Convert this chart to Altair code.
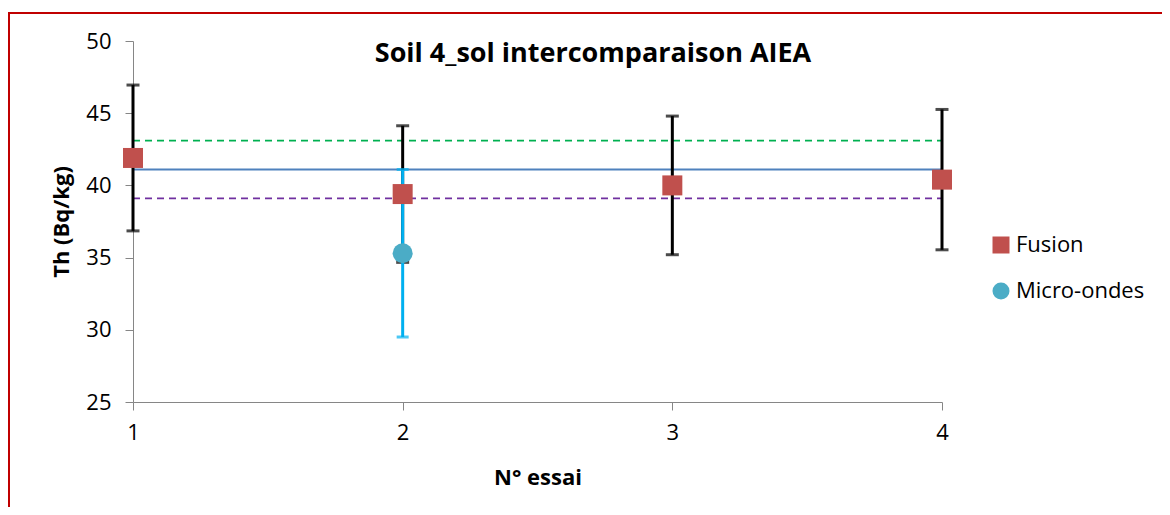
import altair as alt
import pandas as pd

# ---- data ----
trials = [1, 2, 3, 4]
fusion_values = [41.9, 39.4, 40.0, 40.4]
fusion_errors = [5.05, 4.73, 4.8, 4.86]

micro_trials = [2]
micro_values = [35.3]
micro_errors = [5.8]

ref_names = ["sup", "moyenne", "inf"]
ref_values = [43.1, 41.1, 39.1]
ref_start = 1
ref_end = 4

series_names = ["Fusion", "Micro-ondes"]
series_colors = ["#C0504D", "#4BACC6"]
series_shapes = ["square", "circle"]

title_text = "Soil 4_sol intercomparaison AIEA"
x_title = "N° essai"
y_title = "Th (Bq/kg)"
y_ticks = [25, 30, 35, 40, 45, 50]

FONT = "Open Sans"
AXIS_GREY = "#868686"

rows = []
for t, v, e in zip(trials, fusion_values, fusion_errors):
    rows.append({"essai": t, "th": v, "lo": v - e, "hi": v + e, "serie": "Fusion"})
for t, v, e in zip(micro_trials, micro_values, micro_errors):
    rows.append({"essai": t, "th": v, "lo": v - e, "hi": v + e, "serie": "Micro-ondes"})
df = pd.DataFrame(rows)
fus = df[df.serie == "Fusion"]
mic = df[df.serie == "Micro-ondes"]

refs = pd.DataFrame({"name": ref_names, "value": ref_values,
                     "x1": [ref_start] * 3, "x2": [ref_end] * 3})

xscale = alt.Scale(domain=[1, 4], nice=False, zero=False)
yscale = alt.Scale(domain=[25, 50], nice=False, zero=False)

x_axis = alt.Axis(values=trials, format="d", title=x_title, grid=False,
                  domainColor=AXIS_GREY, tickColor=AXIS_GREY, tickSize=8,
                  labelFont=FONT, labelFontSize=22, labelColor="black",
                  labelPadding=12, labelFlush=False, titleFont=FONT, titleFontSize=22,
                  titleFontWeight="bold", titleColor="black", titlePadding=24)
y_axis = alt.Axis(values=y_ticks, title=y_title, grid=False,
                  domainColor=AXIS_GREY, tickColor=AXIS_GREY, tickSize=8,
                  labelFont=FONT, labelFontSize=22, labelColor="black",
                  labelPadding=14, labelFlush=False, titleFont=FONT, titleFontSize=22,
                  titleFontWeight="bold", titleColor="black", titlePadding=12)


def X(f="essai"):
    return alt.X(f"{f}:Q", scale=xscale, axis=x_axis, title=x_title)


def Y(f="th"):
    return alt.Y(f"{f}:Q", scale=yscale, axis=y_axis, title=y_title)


# red frame round the chart area
frame = alt.Chart(pd.DataFrame({"k": [0]})).mark_rect(
    fillOpacity=0, stroke="#C00000", strokeWidth=2
).encode(x=alt.value(-124), x2=alt.value(1200), y=alt.value(-28), y2=alt.value(600))

title_layer = alt.Chart(pd.DataFrame({"t": [title_text]})).mark_text(
    font=FONT, fontSize=27, fontWeight="bold", color="black",
    align="center", baseline="alphabetic"
).encode(text="t:N", x=alt.value(460), y=alt.value(21))

ref_up = alt.Chart(refs[refs.name == "sup"]).mark_rule(
    color="#00B050", strokeWidth=1.8, strokeDash=[7, 5]
).encode(x=X("x1"), x2="x2:Q", y=Y("value"))
ref_mid = alt.Chart(refs[refs.name == "moyenne"]).mark_rule(
    color="#4F81BD", strokeWidth=2
).encode(x=X("x1"), x2="x2:Q", y=Y("value"))
ref_low = alt.Chart(refs[refs.name == "inf"]).mark_rule(
    color="#7030A0", strokeWidth=1.8, strokeDash=[7, 5]
).encode(x=X("x1"), x2="x2:Q", y=Y("value"))

fus_bar = alt.Chart(fus).mark_rule(color="black", strokeWidth=3).encode(
    x=X(), y=Y("lo"), y2="hi:Q")
fus_cap_hi = alt.Chart(fus).mark_tick(color="black", orient="horizontal", size=13, thickness=3).encode(
    x=X(), y=Y("hi"))
fus_cap_lo = alt.Chart(fus).mark_tick(color="black", orient="horizontal", size=13, thickness=3).encode(
    x=X(), y=Y("lo"))

mic_bar = alt.Chart(mic).mark_rule(color="#00B0F0", strokeWidth=3).encode(
    x=X(), y=Y("lo"), y2="hi:Q")
mic_cap_hi = alt.Chart(mic).mark_tick(color="#00B0F0", orient="horizontal", size=12, thickness=3).encode(
    x=X(), y=Y("hi"))
mic_cap_lo = alt.Chart(mic).mark_tick(color="#00B0F0", orient="horizontal", size=12, thickness=3).encode(
    x=X(), y=Y("lo"))

legend = alt.Legend(title=None, orient="none", legendX=857, legendY=193,
                    labelFont=FONT, labelFontSize=22, labelColor="black",
                    symbolSize=289, symbolStrokeWidth=0, rowPadding=24,
                    labelOffset=4, padding=0)
enc_color = alt.Color("serie:N", scale=alt.Scale(domain=series_names, range=series_colors), legend=legend)
enc_shape = alt.Shape("serie:N", scale=alt.Scale(domain=series_names, range=series_shapes), legend=legend)

points = alt.Chart(df).mark_point(filled=True, size=400, opacity=1).encode(
    x=X(), y=Y(), color=enc_color, shape=enc_shape,
    order=alt.Order("serie:N"))

chart = alt.layer(
    frame, ref_up, ref_mid, ref_low,
    fus_bar, fus_cap_hi, fus_cap_lo, mic_bar, mic_cap_hi, mic_cap_lo, points, title_layer
).properties(
    width=809, height=361,
    background="white",
    autosize=alt.AutoSizeParams(type="none"),
    padding={"left": 125, "top": 33, "right": 220, "bottom": 105},
).configure_view(strokeWidth=0, stroke=None)

chart.save("out.html", embed_options={"renderer": "svg", "actions": False})
